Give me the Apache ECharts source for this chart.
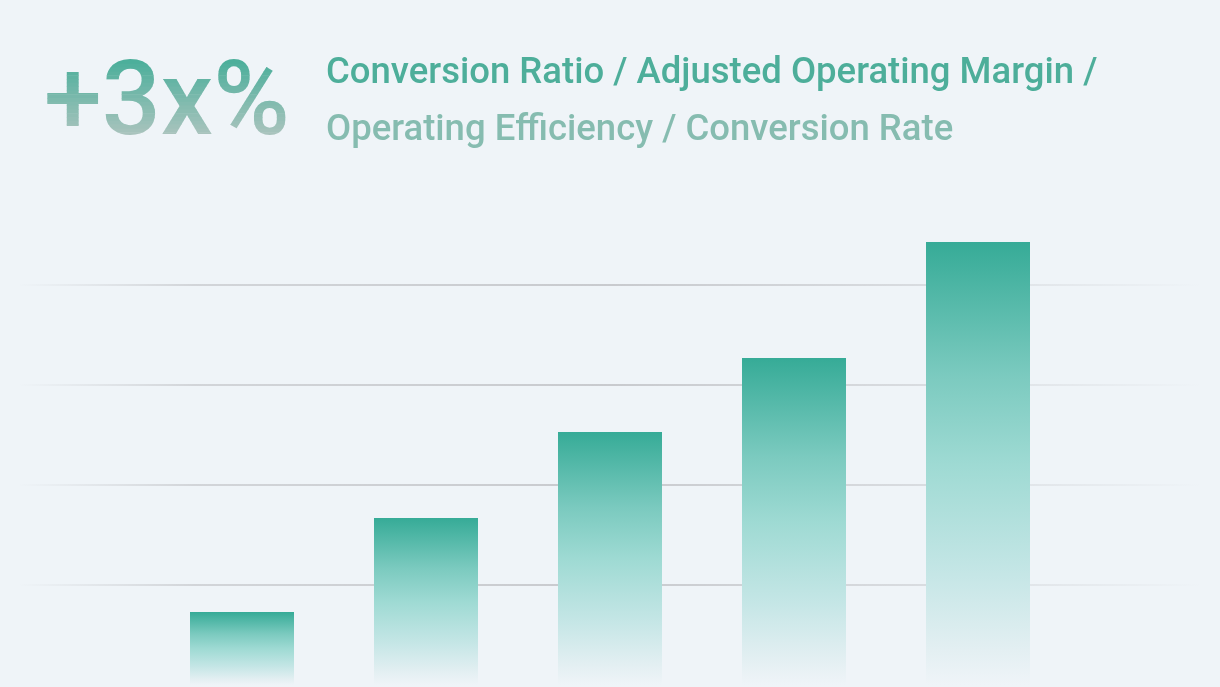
<!DOCTYPE html>
<html>
<head>
<meta charset="utf-8">
<title>+3x%</title>
<script src="https://cdn.jsdelivr.net/npm/echarts@6/dist/echarts.min.js"></script>
<style>
	html, body { margin: 0; padding: 0; background: #eff4f8; }
	#mainChart { width: 1220px; height: 687px; }
</style>
</head>
<body>
<div id="mainChart"></div>
<script>
// 数据
var categories = ['Q1', 'Q2', 'Q3', 'Q4', 'Q5'];
var barValues = [7.3, 16.7, 25.3, 32.7, 44.3];
var headline = '+3x%';
var subtitleLines = [
	'Conversion Ratio / Adjusted Operating Margin /',
	'Operating Efficiency / Conversion Rate'
];

var BG = '#eff4f8';
var FONT = 'Roboto, "Noto Sans", sans-serif';
var HEAD_FONT = '500 104px ' + FONT;
var HEAD_X = 44, HEAD_Y = 56;

var myChart = echarts.init(document.getElementById('mainChart'));

// 柱子渐变：顶部青绿，底部融入背景
var barColor = new echarts.graphic.LinearGradient(0, 0, 0, 1, [
	{ offset: 0, color: '#36ab97' },
	{ offset: 0.3, color: '#7bcabf' },
	{ offset: 0.5, color: '#9edad3' },
	{ offset: 0.75, color: '#c5e6e6' },
	{ offset: 0.92, color: '#e3eff2' },
	{ offset: 1, color: BG }
]);

// 网格线两端淡出
var lineColor = new echarts.graphic.LinearGradient(0, 0, 1, 0, [
	{ offset: 0, color: 'rgba(200,202,206,0)' },
	{ offset: 0.15, color: 'rgba(200,202,206,0.75)' },
	{ offset: 0.5, color: 'rgba(200,202,206,1)' },
	{ offset: 0.75, color: 'rgba(200,202,206,0.6)' },
	{ offset: 1, color: 'rgba(200,202,206,0)' }
]);

var option = {
	backgroundColor: BG,
	animation: false,
	grid: [
		// 0: 网格线
		{ left: 20, right: 20, top: 185, bottom: 2 },
		// 1: 柱子
		{ left: 150, right: 150, top: 185, bottom: 2 }
	],
	xAxis: [
		{ type: 'category', gridIndex: 0, data: categories, show: false },
		{ type: 'category', gridIndex: 1, data: categories, show: false }
	],
	yAxis: [
		{
			type: 'value', gridIndex: 0, min: 0, max: 50, interval: 10,
			axisLine: { show: false }, axisTick: { show: false }, axisLabel: { show: false },
			splitLine: {
				show: true, showMinLine: false, showMaxLine: false,
				lineStyle: { color: lineColor, width: 2 }
			}
		},
		{
			type: 'value', gridIndex: 1, min: 0, max: 50, interval: 10,
			show: false, splitLine: { show: false }
		}
	],
	graphic: [
		{
			type: 'text', left: 326, top: 55,
			style: { text: subtitleLines[0], font: '500 36.5px ' + FONT, fill: '#4dae9a' }
		},
		{
			type: 'text', left: 326, top: 112,
			style: { text: subtitleLines[1], font: '500 36.5px ' + FONT, fill: '#86bcb0' }
		}
	],
	series: [
		{
			type: 'bar',
			xAxisIndex: 1,
			yAxisIndex: 1,
			data: barValues,
			barWidth: 104,
			itemStyle: { color: barColor }
		}
	]
};

myChart.setOption(option);

// 大标题：canvas 文字不支持渐变填充，用横向条带裁剪叠加出竖向渐变
function drawHeadline() {
	var zr = myChart.getZr();
	var top = 60, bottom = 136, n = 20;
	var step = (bottom - top) / n;
	for (var i = 0; i < n; i++) {
		var c = echarts.color.lerp(i / (n - 1), ['#4caf9b', '#a9c3bd']);
		var txt = new echarts.graphic.Text({
			silent: true,
			z: 10,
			style: { x: HEAD_X, y: HEAD_Y, text: headline, font: HEAD_FONT, fill: c }
		});
		var y0 = i === 0 ? 0 : top + step * i;
		var y1 = i === n - 1 ? 200 : top + step * (i + 1) + 0.5;
		txt.setClipPath(new echarts.graphic.Rect({
			shape: { x: 0, y: y0, width: 320, height: y1 - y0 }
		}));
		zr.add(txt);
	}
}
drawHeadline();
</script>
</body>
</html>
